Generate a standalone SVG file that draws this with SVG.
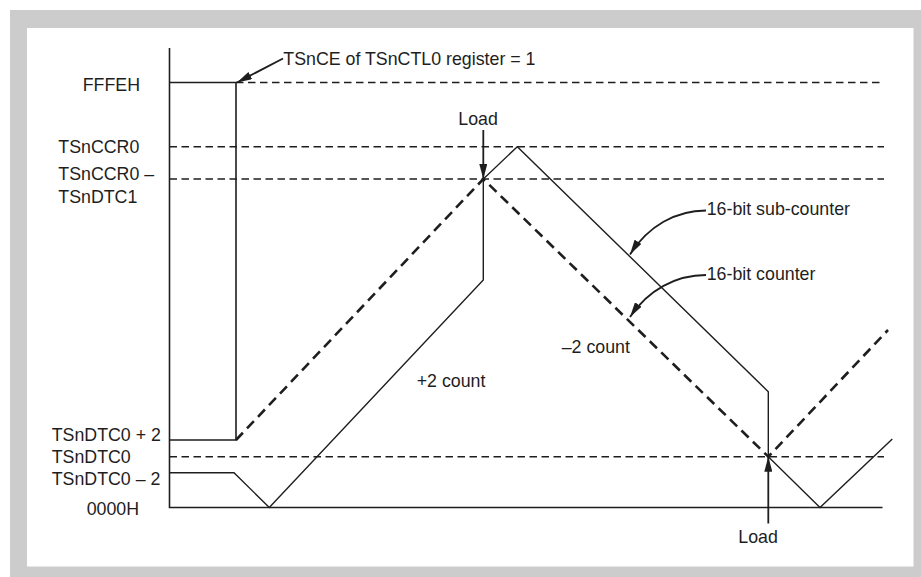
<svg xmlns="http://www.w3.org/2000/svg" width="921" height="577" viewBox="0 0 921 577">
<style>
text{font-family:"Liberation Sans",Arial,Helvetica,sans-serif;font-size:17.8px;fill:#1e1e1e}
.ax{fill:none;stroke:#1e1e1e;stroke-width:1.6}
.lvl{fill:none;stroke:#1e1e1e;stroke-width:1.4;stroke-dasharray:7.5 4.5}
.cnt{fill:none;stroke:#1e1e1e;stroke-width:2.6;stroke-dasharray:10 6}
.sub{fill:none;stroke:#1e1e1e;stroke-width:1.4;stroke-linejoin:miter}
.arr{fill:none;stroke:#1e1e1e;stroke-width:1.8;marker-end:url(#ah)}
</style>
<defs>
<marker id="ah" viewBox="0 0 15 8" refX="15" refY="4" markerWidth="15" markerHeight="8" markerUnits="userSpaceOnUse" orient="auto">
<path d="M0,0 L15,4 L0,8 z" fill="#1e1e1e"/>
</marker>
</defs>
<rect x="10" y="10" width="911" height="567" fill="#cccccc"/>
<rect x="27" y="28" width="886.5" height="538.5" fill="#ffffff"/>
<g id="levels">
<path class="lvl" d="M236,82.5 H884"/>
<path class="lvl" d="M169.5,146.7 H884"/>
<path class="lvl" d="M169.5,179 H884"/>
<path class="lvl" d="M169.5,456.7 H884"/>
</g>
<g id="axes">
<path class="ax" d="M169.5,48 V507.5 H882.5"/>
<path class="ax" d="M169.5,82.5 H236 V440 H169.5"/>
</g>
<g id="counter">
<path class="cnt" d="M236,440 L483.3,179 L768.3,456.7 L888,330"/>
</g>
<g id="subcounter">
<path class="sub" d="M169.5,472.7 H234 L269.3,507.5 L483.3,280 V179 L517.3,146.7 L768.3,391.7 V456.7 L820,507.5 L892.3,439"/>
</g>
<g id="labels">
<text x="82.7" y="91">FFFEH</text>
<text x="58.3" y="153">TSnCCR0</text>
<text x="58.3" y="180">TSnCCR0 –</text>
<text x="58.3" y="203">TSnDTC1</text>
<text x="51.7" y="441">TSnDTC0 + 2</text>
<text x="51.7" y="462.7">TSnDTC0</text>
<text x="51.7" y="485">TSnDTC0 – 2</text>
<text x="86.7" y="515">0000H</text>
<text x="416.7" y="387">+2 count</text>
<text x="561.7" y="353">–2 count</text>
</g>
<g id="connectors">
<path class="arr" d="M283,58.5 L237,82.5"/>
<path class="arr" d="M483.3,130 V179"/>
<path class="arr" d="M768.3,523.5 V456.7"/>
<path class="arr" d="M706,210.5 C676,210.5 648,226 630,254.5"/>
<path class="arr" d="M706,275 C676,275 648,290 630,317"/>
</g>
<g id="annotations">
<text x="283.3" y="64.5">TSnCE of TSnCTL0 register = 1</text>
<text x="458.3" y="125">Load</text>
<text x="738.3" y="543.3">Load</text>
<text x="706.7" y="215">16-bit sub-counter</text>
<text x="706.7" y="280">16-bit counter</text>
</g>
</svg>
